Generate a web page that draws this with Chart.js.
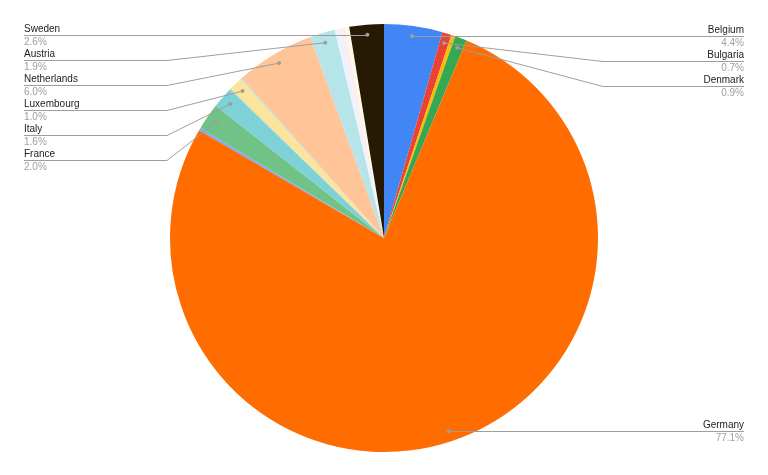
<!DOCTYPE html>
<html>
<head>
<meta charset="utf-8">
<script src="https://cdn.jsdelivr.net/npm/chart.js@4"></script>
<style>
  html, body { margin: 0; padding: 0; background: #fff; }
  #wrap { width: 768px; height: 475px; }
</style>
</head>
<body>
<div id="wrap"><canvas id="pieChart" width="768" height="475"></canvas></div>
<script>
// slices in drawing order (clockwise from 12 o'clock), empty name = unlabeled sliver
const countries = ["Belgium", "Bulgaria", "", "Denmark", "Germany", "", "France", "Italy", "",
  "Luxembourg", "", "Netherlands", "Austria", "", "", "", "Sweden"];
const shares = [4.4, 0.7, 0.3, 0.9, 77.1, 0.2, 2.0, 1.6, 0.1, 1.0, 0.1, 6.0, 1.9, 0.4, 0.4, 0.3, 2.6];
const sliceColors = ["#4285f4", "#ea4335", "#fbbc04", "#34a853", "#ff6d01", "#7baaf7", "#71c287",
  "#7ed1d7", "#aedcba", "#fde49b", "#b5e5e8", "#ffc599", "#b5e5e8", "#ecf3fe", "#fdedec", "#fef8e6", "#271a04"];

// draws leader lines + labels the way Sheets does it
const sideLabels = {
  id: "sideLabels",
  afterDraw(chart) {
    const ctx = chart.ctx;
    const arcs = chart.getDatasetMeta(0).data;
    const left = [], right = [];
    arcs.forEach((arc, i) => {
      if (!countries[i]) return;
      const mid = (arc.startAngle + arc.endAngle) / 2;
      const r = arc.outerRadius * 0.953;
      const pt = { x: arc.x + Math.cos(mid) * r, y: arc.y + Math.sin(mid) * r, i: i };
      (pt.x < arc.x ? left : right).push(pt);
    });
    const place = (list) => {
      list.sort((a, b) => a.y - b.y);
      let last = -Infinity;
      list.forEach((p) => {
        p.ly = Math.max(Math.round(p.y), last + 25);
        last = p.ly;
      });
    };
    place(left);
    place(right);

    ctx.save();
    ctx.lineWidth = 1;
    const draw = (p, isLeft) => {
      const edge = isLeft ? 24 : 744;
      const knee = isLeft ? 167 : 603;
      ctx.strokeStyle = "#9e9e9e";
      ctx.beginPath();
      ctx.moveTo(edge, p.ly + 0.5);
      if (Math.abs(p.ly - p.y) < 1) {
        ctx.lineTo(p.x, p.ly + 0.5);
      } else {
        ctx.lineTo(knee, p.ly + 0.5);
        ctx.lineTo(p.x, p.y);
      }
      ctx.stroke();
      ctx.fillStyle = "#9e9e9e";
      ctx.beginPath();
      ctx.arc(p.x, p.y, 2, 0, Math.PI * 2);
      ctx.fill();

      ctx.textAlign = isLeft ? "left" : "right";
      ctx.font = "10px 'Liberation Sans', Arial, sans-serif";
      ctx.textBaseline = "alphabetic";
      ctx.fillStyle = "#222";
      ctx.fillText(countries[p.i], edge, p.ly - 3);
      ctx.fillStyle = "#9e9e9e";
      ctx.fillText(shares[p.i].toFixed(1) + "%", edge, p.ly + 10);
    };
    left.forEach((p) => draw(p, true));
    right.forEach((p) => draw(p, false));
    ctx.restore();
  },
};

document.addEventListener("DOMContentLoaded", function () {
  const ctx = document.getElementById("pieChart").getContext("2d");
  new Chart(ctx, {
    type: "pie",
    data: {
      labels: countries,
      datasets: [
        {
          data: shares,
          backgroundColor: sliceColors,
          borderWidth: 0,
        },
      ],
    },
    options: {
      responsive: false,
      animation: false,
      layout: { padding: { top: 24, bottom: 23, left: 0, right: 0 } },
      plugins: {
        legend: { display: false },
        tooltip: { enabled: false },
      },
    },
    plugins: [sideLabels],
  });
});
</script>
</body>
</html>
